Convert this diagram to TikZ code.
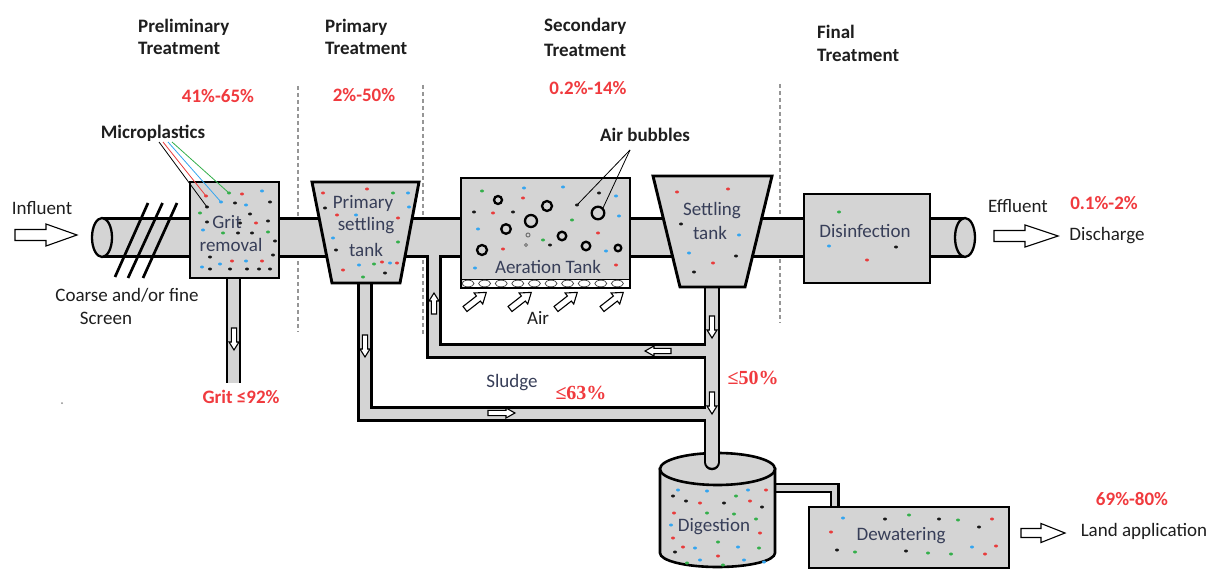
\documentclass[tikz,border=0pt]{standalone}
\usepackage{fontspec}
\setmainfont{Carlito}
\newfontfamily\serifbold{Liberation Serif}[BoldFont={Liberation Serif Bold}]

\definecolor{pipegray}{RGB}{212,212,212}
\definecolor{boxtext}{RGB}{55,62,88}
\definecolor{pcred}{RGB}{240,58,62}
\definecolor{mpr}{RGB}{232,60,60}
\definecolor{mpb}{RGB}{52,165,240}
\definecolor{mpg}{RGB}{52,175,75}
\definecolor{mpk}{RGB}{25,25,25}
\definecolor{sepgray}{RGB}{150,150,150}
\definecolor{labelk}{RGB}{30,30,30}

% hollow block arrow: tail point, angle, length, shaft half-width, head half-width, head length
\newcommand\hollowarrow[6]{%
  \draw[arrowline, shift={(#1)}, rotate=#2]
    (0,-#4) -- ({#3-#6},-#4) -- ({#3-#6},-#5) -- (#3,0) -- ({#3-#6},#5)
    -- ({#3-#6},#4) -- (0,#4) -- cycle;}

\begin{document}
\begin{tikzpicture}[x=1pt,y=-1pt,
  txt/.style={inner sep=0pt, font=\fontsize{19}{21}\selectfont},
  hdr/.style={txt, font=\fontsize{19}{21}\selectfont\bfseries, text=labelk, anchor=west},
  pct/.style={txt, font=\fontsize{19}{21}\selectfont\bfseries, text=pcred},
  spct/.style={txt, font=\fontsize{20}{22}\serifbold\bfseries, text=pcred},
  boxlbl/.style={txt, text=boxtext},
  plain/.style={txt, text=labelk},
  unitbox/.style={draw=black, fill=pipegray, line width=2.9pt, line join=miter},
  separator/.style={draw=sepgray, line width=1.4pt, dash pattern=on 4pt off 3pt},
  arrowline/.style={draw=black, fill=white, line width=1.1pt, line join=miter},
  pipeout/.style={draw=black, line join=miter},
  pipein/.style={draw=pipegray, line join=miter},
  leader/.style={line width=0.8pt},
  bubble/.style={draw=black, line width=2.3pt},
]
\useasboundingbox (0,0) rectangle (1210,572);

% ---------- stage separators ----------
\draw[separator] (298,86) -- (298,332);
\draw[separator] (423,85) -- (423,335);
\draw[separator] (780,84) -- (780,323);

% ---------- stage headings ----------
\node[hdr] (hPreA) at (138,27) {Preliminary};
\node[hdr] (hPreB) at (138,48.5) {Treatment};
\node[hdr] (hPriA) at (325,27) {Primary};
\node[hdr] (hPriB) at (325,48.5) {Treatment};
\node[hdr] (hSecA) at (544,26.5) {Secondary};
\node[hdr] (hSecB) at (544,50) {Treatment};
\node[hdr] (hFinA) at (817,31.5) {Final};
\node[hdr] (hFinB) at (817,55) {Treatment};

% ---------- removal rates ----------
\node[pct] (rPre) at (218,96) {41\%-65\%};
\node[pct] (rPri) at (364,95) {2\%-50\%};
\node[pct] (rSec) at (588,88) {0.2\%-14\%};
\node[pct] (rFin) at (1104,203) {0.1\%-2\%};
\node[pct] (rGrit) at (241,397) {Grit ≤92\%};
\node[spct] (rSl1) at (581,393) {≤63\%};
\node[spct] (rSl2) at (753,378) {≤50\%};
\node[pct] (rLand) at (1132,499) {69\%-80\%};

% ---------- digestion to dewatering pipe ----------
\draw[pipeout, line width=10pt] (760,488) -- (834.5,488) -- (834.5,508);
\draw[pipein, line width=5.5pt] (760,488) -- (834.5,488) -- (834.5,510);

% ---------- digester ----------
\draw[unitbox, line width=2.6pt] (660,469) -- (660,553) arc (180:0:57.5 and 14) -- (775,469) -- cycle;
\draw[unitbox, line width=2.6pt] (717.5,469) ellipse (57.5 and 16);

% ---------- main flow pipe ----------
\coordinate (pipeL) at (102,237.5);
\coordinate (pipeR) at (965,237.5);
\draw[pipeout, line width=41pt] (pipeL) -- (pipeR);
\draw[pipein, line width=35.6pt] (pipeL) -- (pipeR);
\draw[unitbox, line width=2.3pt] (pipeL) ellipse (10 and 19.5);
\draw[unitbox, line width=2.3pt] (pipeR) ellipse (10 and 19.5);

% ---------- sludge pipes ----------
\coordinate (gritTop) at (233.5,270);
\coordinate (gritEnd) at (233.5,383);
\coordinate (priTop) at (365,275);
\coordinate (priCorner) at (365,414);
\coordinate (junctLow) at (712,414);
\coordinate (junctHigh) at (712,351);
\coordinate (rasCorner) at (434,351);
\coordinate (setTop) at (712,280);
\coordinate (digIn) at (712,462);
\draw[pipeout, line width=15.5pt] (gritTop) -- (gritEnd);
\draw[pipeout, line width=15.5pt] (priTop) -- (priCorner) -- (junctLow);
\draw[pipeout, line width=15.5pt] (junctHigh) -- (rasCorner) -- (434,256);
\draw[pipeout, line width=16.5pt, line cap=round] (setTop) -- (digIn);
\draw[pipein, line width=10.5pt] (gritTop) -- (gritEnd);
\draw[pipein, line width=10.5pt] (priTop) -- (priCorner) -- (junctLow);
\draw[pipein, line width=10.5pt] (junctHigh) -- (rasCorner) -- (434,245);
\draw[pipein, line width=11.5pt, line cap=round] (setTop) -- (digIn);

% flow arrows inside the pipes
\hollowarrow{234,328}{-90}{22}{2.6}{5}{8}
\hollowarrow{365,335}{-90}{22}{2.6}{5}{8}
\hollowarrow{434,314}{90}{21}{2.6}{5}{8}
\hollowarrow{712,316}{-90}{22}{2.6}{5}{8}
\hollowarrow{671,351}{180}{26}{2.6}{5}{9}
\hollowarrow{712,392}{-90}{22}{2.6}{5}{8}
\hollowarrow{488,413}{0}{27}{2.6}{5}{9}

% ---------- screen bars ----------
\draw[line width=2.7pt] (115,277) -- (148,203);
\draw[line width=2.7pt] (128,278) -- (162.5,203);
\draw[line width=2.7pt] (143,278) -- (177,203);

% ---------- treatment units ----------
\draw[unitbox] (190,182) rectangle (279,278);
\draw[unitbox] (312,182) -- (419,182) -- (400,283) -- (332,283) -- cycle;
\draw[unitbox] (461,178) rectangle (630,288);
\draw[unitbox] (653,176) -- (772,176) -- (745,287) -- (680,287) -- cycle;
\draw[unitbox] (804,194) rectangle (930,283);
\draw[unitbox] (809,507) rectangle (1009,568);

% diffuser strip of the aeration tank
\fill[white] (462.5,279) rectangle (628.5,286.6);
\draw[line width=0.8pt] (462,279) -- (629,279);
\foreach \i in {0,...,9}
  \draw[line width=0.7pt, draw=black!75] ({468+16.6*\i},283.5) ellipse (6 and 3.3);
\draw[draw=black, line width=2.9pt] (461,178) rectangle (630,288);

% air bubbles
\foreach \x/\y/\r in {498/200/4, 547/206/5, 531/221/6, 598/213/6.3, 506/229/4.8,
                      562/236/4.3, 586/246/4.3, 482/250/5, 618/248/3.3}
  \draw[bubble] (\x,\y) circle (\r);
\draw[draw=black!55, line width=1pt] (528,235) circle (2);
\draw[draw=black!55, line width=1pt] (526,245) circle (1.5);

% ---------- microplastic particles ----------
\foreach \c/\x/\y in {
  r/206/196, r/242/194, b/262/191, g/229/193, b/221/202, k/235/203, b/246/205,
  k/270/202, k/207/207, k/250/214, r/256/223, k/268/221, g/200/213, k/207/222,
  k/240/223, b/203/230, g/223/233, k/238/233, k/252/233, g/268/232, k/275/241,
  k/210/257, k/273/255, r/232/261, b/246/261, r/262/261, b/202/267, k/210/269,
  b/220/264, k/230/269, k/247/269, k/259/269, k/270/269,
  r/323/193, r/367/189, g/393/193, b/408/193, k/325/208, r/337/215, b/356/215,
  r/398/218, b/409/207, b/333/238, k/336/250, g/398/242, b/390/263, r/343/270,
  b/359/265, g/374/264, r/382/262, g/363/277, k/385/273, r/397/263,
  k/474/212, k/513/212, k/577/205, k/599/193, k/550/245,
  g/482/191, b/524/188, b/563/187, r/523/198, r/493/213, b/616/196, b/619/216,
  g/572/220, b/478/229, r/598/233, g/543/240, r/503/249, b/606/251, b/475/268,
  r/616/265,
  r/677/192, r/728/189, k/681/224, b/739/235, b/689/253, r/713/263, k/736/256,
  k/694/272,
  g/839/212, b/829/246, k/896/247, r/867/260,
  b/678/490, b/707/491, g/736/496, b/748/490, r/766/490, k/673/496, k/686/501,
  r/700/503, k/724/503, r/750/501, k/762/507, r/674/513, g/707/513, g/734/514,
  g/756/519, b/671/525, r/760/533, r/673/538, g/718/542, r/683/547, b/695/548,
  b/738/547, g/759/548, k/675/552, b/700/560, r/718/556, b/744/560, g/687/563,
  g/723/565, b/764/562,
  b/843/518, k/885/519, g/909/515, k/939/519, g/958/520, r/992/519, r/831/532,
  k/979/527, k/837/550, g/855/552, k/906/551, g/928/553, g/951/554, b/972/547,
  r/996/546, r/985/554}
  \fill[mp\c] (\x,\y) ellipse (2 and 1.5);
\fill[black!45] (62,403) circle (1);

% ---------- unit labels ----------
\node[boxlbl] (tGrit) at (227,222) {Grit};
\node[boxlbl] (tRem) at (231,245) {removal};
\node[boxlbl] (tPri1) at (363,203) {Primary};
\node[boxlbl] (tPri2) at (366,226) {settling};
\node[boxlbl] (tPri3) at (366,250) {tank};
\node[boxlbl] (tAer) at (548,267) {Aeration Tank};
\node[boxlbl] (tSet1) at (712,211) {Settling};
\node[boxlbl] (tSet2) at (710,233) {tank};
\node[boxlbl] (tDis) at (865,231) {Disinfection};
\node[boxlbl] (tDig) at (714,527) {Digestion};
\node[boxlbl] (tDew) at (901,536) {Dewatering};
\node[boxlbl] (tSludge) at (512,383) {Sludge};

% ---------- other labels ----------
\node[plain] (tInf) at (42,208) {Influent};
\node[plain] (tScr1) at (127,295) {Coarse and/or fine};
\node[plain] (tScr2) at (106,318) {Screen};
\node[plain] (tAir) at (538,318) {Air};
\node[plain] (tEff) at (1018,206) {Effluent};
\node[plain] (tDisch) at (1107,236) {Discharge};
\node[plain] (tLand) at (1144,531) {Land application};
\node[txt, font=\fontsize{19}{21}\selectfont\bfseries, text=labelk] (tMP) at (153,133) {Microplastics};
\node[txt, font=\fontsize{19}{21}\selectfont\bfseries, text=labelk] (tAB) at (645,135) {Air bubbles};

% microplastics leaders
\draw[leader, black] (159,142) -- (207,207);
\draw[leader, mpr] (163,142) -- (206,196);
\draw[leader, mpb] (168,142) -- (221,202);
\draw[leader, mpg] (172,142) -- (229,193);

% air bubble leaders
\coordinate (abRoot) at (630,150);
\draw[leader, black] (abRoot) -- (578,204);
\draw[leader, black] (abRoot) -- (603,208);

% ---------- block arrows ----------
\hollowarrow{15,235}{0}{62}{5.5}{11}{31}
\hollowarrow{994,236}{0}{64}{5.5}{11}{33}
\hollowarrow{1021,533}{0}{44}{4.5}{9.5}{24}
\foreach \x in {465,510,556,602}
  {\hollowarrow{\x,309}{38}{27}{3.2}{7}{10}}

\end{tikzpicture}
\end{document}
